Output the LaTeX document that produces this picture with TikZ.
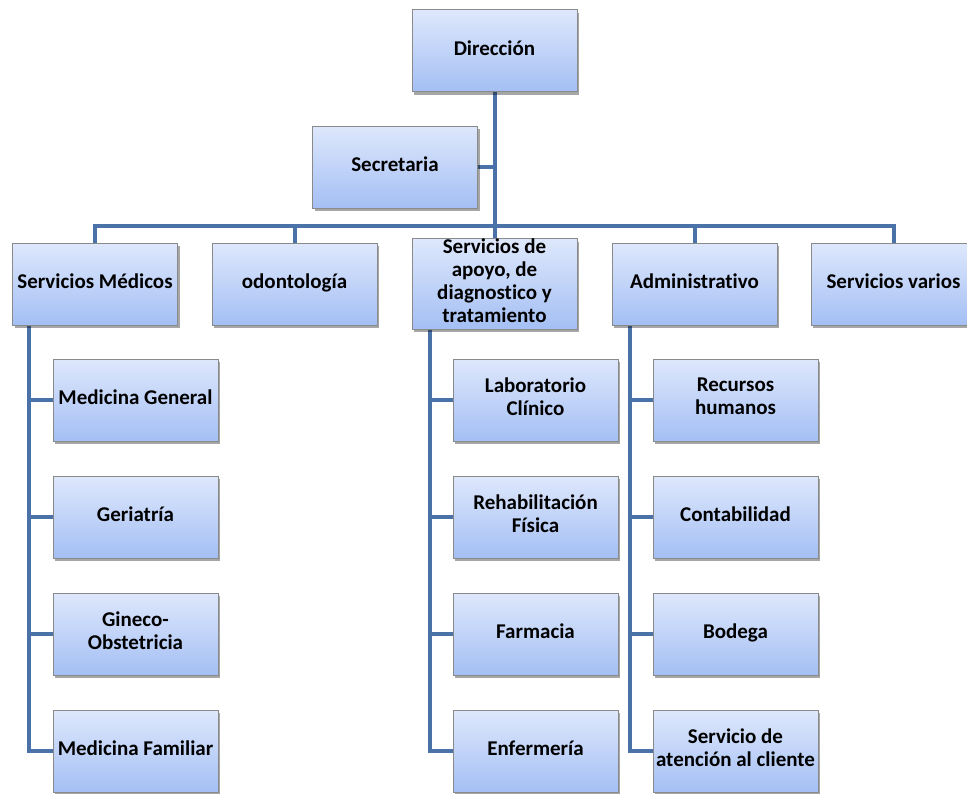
\documentclass[tikz,border=0pt]{standalone}
\usepackage{fontspec}
\setmainfont{Carlito}[Ligatures=NoCommon]
\usetikzlibrary{shadows,backgrounds}
\definecolor{boxtop}{HTML}{DEE8FC}
\definecolor{boxbot}{HTML}{A4BFF4}
\definecolor{boxedge}{HTML}{8A8A8A}
\definecolor{linkc}{HTML}{4A71A8}
\tikzset{
  orgbox/.style={draw=boxedge, line width=1pt, top color=boxtop, bottom color=boxbot,
    minimum width=165pt, minimum height=82pt, inner sep=0pt, align=center,
    font=\fontsize{21}{23}\selectfont\bfseries,
    execute at begin node=\strut, execute at end node=\strut,
    drop shadow={shadow xshift=2pt, shadow yshift=-3pt, opacity=0.35, fill=black}},
  link/.style={draw=linkc, line width=4pt, line join=miter}
}
\begin{document}
\begin{tikzpicture}[x=1pt,y=-1pt]
\useasboundingbox (0,0) rectangle (967,793);
\clip (0,0) rectangle (967,793);
\node[orgbox] (dir) at (494.5,50.5) {Dirección};
\node[orgbox] (sec) at (395,167) {Secretaria};
\node[orgbox] (sm) at (95,284) {Servicios Médicos};
\node[orgbox] (od) at (294.5,284) {odontología};
\node[orgbox] (sa) at (494.5,284) {Servicios de\\apoyo, de\\diagnostico y\\tratamiento};
\node[orgbox] (ad) at (694.5,284) {Administrativo};
\node[orgbox] (sv) at (893.5,284) {Servicios varios};
\node[orgbox] (mg) at (135.5,400) {Medicina General};
\node[orgbox] (ge) at (135.5,517) {Geriatría};
\node[orgbox] (go) at (135.5,634) {Gineco-\\Obstetricia};
\node[orgbox] (mf) at (135.5,751) {Medicina Familiar};
\node[orgbox] (lc) at (535.5,400) {Laboratorio\\Clínico};
\node[orgbox] (rf) at (535.5,517) {Rehabilitación\\Física};
\node[orgbox] (fa) at (535.5,634) {Farmacia};
\node[orgbox] (en) at (535.5,751) {Enfermería};
\node[orgbox] (rh) at (735.5,400) {Recursos\\humanos};
\node[orgbox] (co) at (735.5,517) {Contabilidad};
\node[orgbox] (bo) at (735.5,634) {Bodega};
\node[orgbox] (sc) at (735.5,751) {Servicio de\\atención al cliente};
\begin{scope}[on background layer]
\coordinate (bus) at (494.5,226);
\draw[link] (dir.south) -- (bus);
\draw[link] (sec.east) -- (sec.east -| dir.south);
\draw[link] (sm.north) |- (bus) -| (sv.north);
\draw[link] (od.north) -- (od.north |- bus);
\draw[link] (sa.north) -- (bus);
\draw[link] (ad.north) -- (ad.north |- bus);
\draw[link] ([xshift=17pt]sm.south west) |- (mf.west);
\draw[link] ([xshift=17pt]sm.south west |- mg.west) -- (mg.west);
\draw[link] ([xshift=17pt]sm.south west |- ge.west) -- (ge.west);
\draw[link] ([xshift=17pt]sm.south west |- go.west) -- (go.west);
\draw[link] ([xshift=18pt]sa.south west) |- (en.west);
\draw[link] ([xshift=18pt]sa.south west |- lc.west) -- (lc.west);
\draw[link] ([xshift=18pt]sa.south west |- rf.west) -- (rf.west);
\draw[link] ([xshift=18pt]sa.south west |- fa.west) -- (fa.west);
\draw[link] ([xshift=18pt]ad.south west) |- (sc.west);
\draw[link] ([xshift=18pt]ad.south west |- rh.west) -- (rh.west);
\draw[link] ([xshift=18pt]ad.south west |- co.west) -- (co.west);
\draw[link] ([xshift=18pt]ad.south west |- bo.west) -- (bo.west);
\end{scope}
\end{tikzpicture}
\end{document}
